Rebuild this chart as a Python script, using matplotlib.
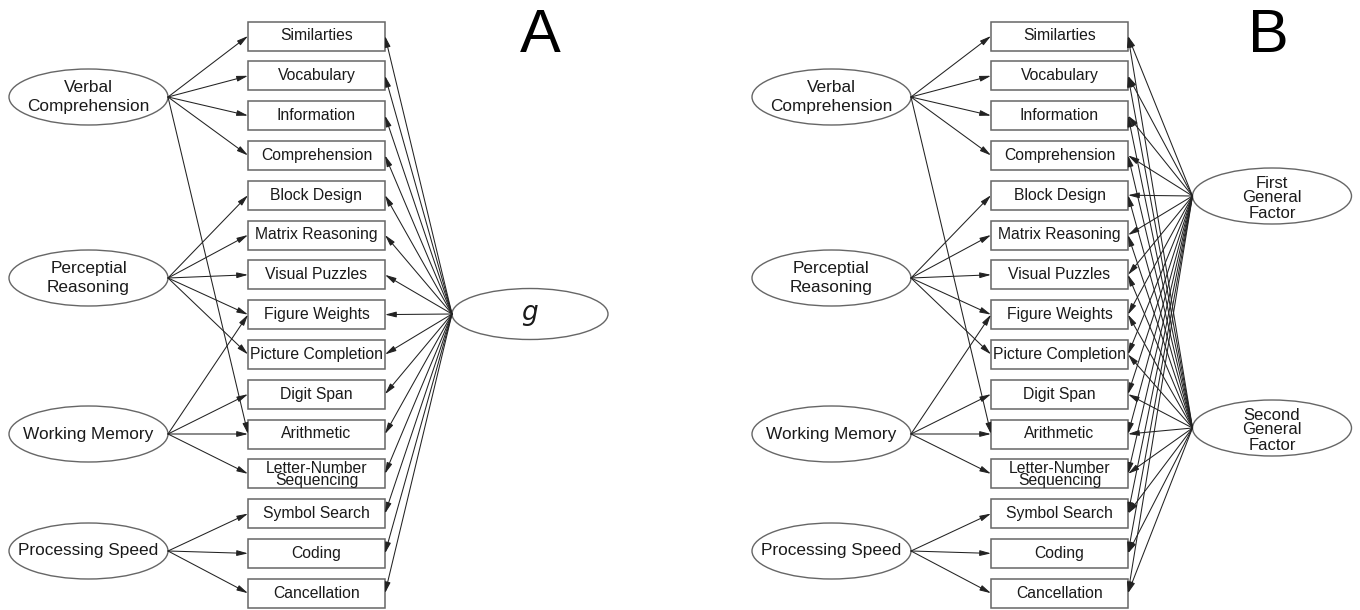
import matplotlib.pyplot as plt
from matplotlib.patches import Rectangle, Ellipse, FancyArrowPatch

plt.rcParams['font.family'] = ['Liberation Sans', 'DejaVu Sans']

# observed subtests (boxes), top to bottom
subtests = ["Similarties", "Vocabulary", "Information", "Comprehension",
            "Block Design", "Matrix Reasoning", "Visual Puzzles", "Figure Weights",
            "Picture Completion", "Digit Span", "Arithmetic",
            "Letter-Number\nSequencing", "Symbol Search", "Coding", "Cancellation"]

# first-order factors and the subtests each one loads on
group_factors = ["Verbal\nComprehension", "Perceptial\nReasoning",
                 "Working Memory", "Processing Speed"]
group_loadings = [
    [0, 1, 2, 3, 10],
    [4, 5, 6, 7, 8],
    [7, 9, 10, 11],
    [12, 13, 14],
]

# general factors for each model
general_a = ["$g$"]
general_b = ["First\nGeneral\nFactor", "Second\nGeneral\nFactor"]
panel_labels = ["A", "B"]

LINE = "#222222"
EDGE = "#666666"
TXT = "#1a1a1a"

fig = plt.figure(figsize=(13.6, 6.1), dpi=100)
ax = fig.add_axes([0, 0, 1, 1])
ax.set_xlim(0, 1360)
ax.set_ylim(610, 0)
ax.axis("off")


def arrow(p, q):
    ax.add_patch(FancyArrowPatch(p, q, arrowstyle="-|>,head_length=0.55,head_width=0.14",
                                 mutation_scale=12, color=LINE, lw=0.75,
                                 shrinkA=0, shrinkB=0, zorder=3))


def panel(x0, generals, gen_centers, gen_size, gen_fs, label, label_x):
    bx, bw, bh = x0 + 248, 137, 29
    box_y = [36 + 39.8 * i for i in range(len(subtests))]
    for name, y in zip(subtests, box_y):
        ax.add_patch(Rectangle((bx, y - bh / 2), bw, bh, fill=False,
                               ec=EDGE, lw=1.1, zorder=2))
        two = "\n" in name
        ax.text(bx + bw / 2, y + (1 if two else 0), name, ha="center", va="center",
                fontsize=11.3, color=TXT, linespacing=0.75 if two else 1.0)

    # group factors on the left
    ex, ew, eh = x0 + 88.5, 159, 56
    ey = [97, 278, 434, 551]
    for name, y, targets in zip(group_factors, ey, group_loadings):
        ax.add_patch(Ellipse((ex, y), ew, eh, fill=False, ec=EDGE, lw=1.0))
        ax.text(ex, y, name, ha="center", va="center", fontsize=12.4,
                color=TXT, linespacing=1.3)
        for t in targets:
            arrow((ex + ew / 2, y), (bx, box_y[t]))

    # general factor(s) on the right, loading on every subtest
    gw, gh = gen_size
    for name, (gx, gy) in zip(generals, gen_centers):
        ax.add_patch(Ellipse((gx, gy), gw, gh, fill=False, ec=EDGE, lw=1.0))
        ax.text(gx, gy + 2, name, ha="center", va="center", fontsize=gen_fs,
                color=TXT, linespacing=1.0)
        for y in box_y:
            arrow((gx - gw / 2, gy), (bx + bw, y))

    ax.text(label_x, 36, label, ha="center", va="center", fontsize=44, color="black")


panel(0, general_a, [(530, 314)], (156, 51), 19, panel_labels[0], 540)
panel(743, general_b, [(1272, 196), (1272, 428)], (159, 56), 12, panel_labels[1], 1268)

fig.savefig("out.png", dpi=100, facecolor="white")
